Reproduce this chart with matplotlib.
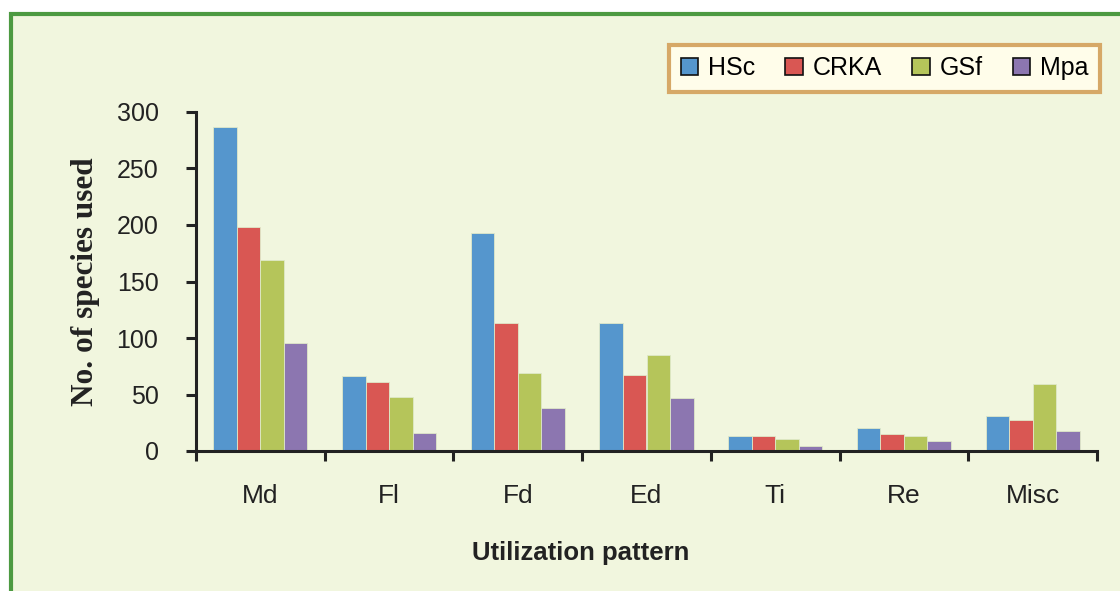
import numpy as np
import matplotlib.pyplot as plt
from matplotlib.patches import Rectangle

# --- Datos ---
categorias = ['Md', 'Fl', 'Fd', 'Ed', 'Ti', 'Re', 'Misc']
hsc = [287, 66, 193, 113, 13, 20, 31]
crka = [198, 61, 113, 67, 13, 15, 27]
gsf = [169, 48, 69, 85, 11, 13, 59]
mpa = [96, 16, 38, 47, 4, 9, 18]
series = ['HSc', 'CRKA', 'GSf', 'Mpa']
colores = ['#5596cd', '#d95753', '#b5c55a', '#8c76b0']

fondo = '#f1f6de'

fig = plt.figure(figsize=(11.2, 5.91), dpi=100, facecolor='white')
# marco verde
fig.patches.append(Rectangle((11 / 1120, -0.05), 1.2, (591 - 14) / 591 + 0.05,
                             transform=fig.transFigure, facecolor=fondo,
                             edgecolor='#4d9a41', linewidth=3, zorder=-10))

ax = fig.add_axes([196 / 1120, 140 / 591, 901 / 1120, 339 / 591])
ax.set_facecolor('none')
ax.set_zorder(5)

x = np.arange(len(categorias))
w = 0.183
datos = [hsc, crka, gsf, mpa]
for i, (vals, nombre, c) in enumerate(zip(datos, series, colores)):
    ax.bar(x + (i - 1.5) * w, vals, width=w, color=c, label=nombre,
           edgecolor='#dfe8c8', linewidth=0.6)

ax.set_xlim(-0.5, len(categorias) - 0.5)
ax.set_ylim(0, 300)
ax.set_yticks(range(0, 301, 50))
ax.set_xticks(x)
ax.set_xticklabels(categorias)
ax.set_xticks(np.arange(-0.5, len(categorias), 1), minor=True)
ax.tick_params(axis='x', which='major', length=0, pad=24, labelsize=19,
               labelcolor='#222222')
ax.tick_params(axis='x', which='minor', length=7, width=2.2, direction='out',
               color='#222222')
ax.tick_params(axis='y', length=7, width=2.2, direction='out', labelsize=18,
               color='#222222', labelcolor='#222222', pad=20)
for lab in ax.get_xticklabels() + ax.get_yticklabels():
    lab.set_family('Liberation Sans')

for s in ['top', 'right']:
    ax.spines[s].set_visible(False)
for s in ['left', 'bottom']:
    ax.spines[s].set_linewidth(2.2)
    ax.spines[s].set_color('#222222')

ax.set_ylabel('No. of species used', family='Liberation Serif', fontweight='bold',
              fontsize=22.5, labelpad=12, color='#222222')
ax.set_xlabel('Utilization pattern', family='Liberation Sans', fontweight='bold',
              fontsize=18.5, color='#222222')
ax.xaxis.set_label_coords((581 - 196) / 901, -(553 - 451) / 339)
ax.xaxis.label.set_va('center')

leg = ax.legend(ncol=4, loc='upper right', bbox_to_anchor=(1100 / 1120, 1 - 45 / 591),
                bbox_transform=fig.transFigure, frameon=True, fancybox=False,
                prop={'family': 'Liberation Sans', 'size': 18},
                handlelength=0.7, handleheight=0.7, handletextpad=0.4,
                columnspacing=1.2, borderpad=0.45, borderaxespad=0)
leg.get_frame().set_facecolor('#fffdea')
leg.get_frame().set_edgecolor('#d6a867')
leg.get_frame().set_linewidth(3)
leg.get_frame().set_alpha(1)
for h in leg.legend_handles:
    h.set_edgecolor('#111111')
    h.set_linewidth(1.2)

plt.savefig('out.png', dpi=100, facecolor='white')
